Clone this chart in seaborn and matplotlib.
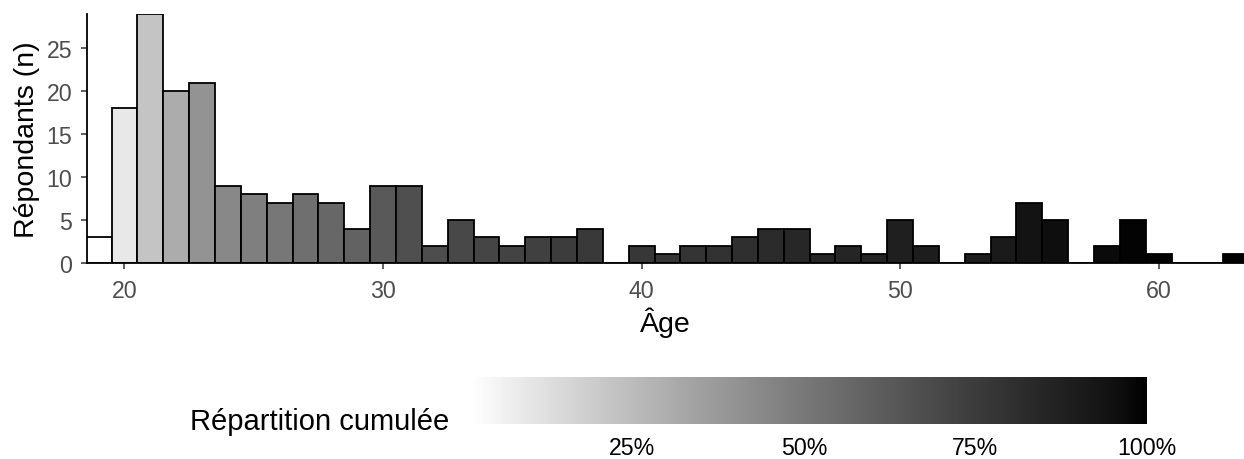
import matplotlib
matplotlib.use("Agg")
import matplotlib.pyplot as plt
import seaborn as sns
import numpy as np
import pandas as pd
from matplotlib.colors import ListedColormap, Normalize
from matplotlib.cm import ScalarMappable

ages = list(range(19, 64))
counts = [3, 18, 29, 20, 21, 9, 8, 7, 8, 7, 4, 9, 9, 2, 5, 3, 2, 3, 3, 4,
          0, 2, 1, 2, 2, 3, 4, 4, 1, 2, 1, 5, 2, 0, 1, 3, 7, 5, 0, 2, 5, 1,
          0, 0, 1]
cb_ticks = [0.25, 0.50, 0.75, 1.00]
cb_labels = ["25%", "50%", "75%", "100%"]


def lab_grey_cmap(n=256):
    # white -> black, interpolated in L* like ggplot's scale_fill_gradient
    L = np.linspace(100, 0, n)
    Y = np.where(L > 8, ((L + 16) / 116) ** 3, L / 903.3)
    s = np.where(Y > 0.0031308, 1.055 * Y ** (1 / 2.4) - 0.055, 12.92 * Y)
    s = np.clip(s, 0, 1)
    return ListedColormap(np.column_stack([s, s, s]))


df = pd.DataFrame({"age": ages, "n": counts})
df["cum"] = df["n"].cumsum() / df["n"].sum()

sns.set_theme(style="white")
plt.rcParams["font.family"] = ["Liberation Sans", "DejaVu Sans"]

fig = plt.figure(figsize=(12.44, 4.6), dpi=100)
ax = fig.add_axes([87 / 1244, 1 - 264 / 460, 1 - 87 / 1244, 249 / 460])

sns.histplot(data=df, x="age", weights="n", discrete=True, ax=ax,
             edgecolor="black", linewidth=1.3, alpha=1)

cmap = lab_grey_cmap()
norm = Normalize(vmin=df["cum"].min(), vmax=df["cum"].max())
cum_by_age = dict(zip(df["age"], df["cum"]))
for p in ax.patches:
    a = int(round(p.get_x() + p.get_width() / 2))
    if a in cum_by_age:
        p.set_facecolor(cmap(norm(cum_by_age[a])))

ax.set_xlim(18.55, 63.3)
ax.set_ylim(0, 29)
ax.set_xticks([20, 30, 40, 50, 60])
ax.set_yticks([0, 5, 10, 15, 20, 25])
ax.set_xlabel("Âge", fontsize=20.5, color="black", labelpad=3)
ax.set_ylabel("Répondants (n)", fontsize=20.5, color="black", labelpad=5)
ax.tick_params(axis="both", labelsize=16.7, labelcolor="#4d4d4d", colors="#333333",
               length=4.5, width=1.1, bottom=True, left=True)
ax.tick_params(axis="both", labelcolor="#4d4d4d")
ax.tick_params(axis="x", pad=7)
ax.tick_params(axis="y", pad=6)
for side in ["top", "right"]:
    ax.spines[side].set_visible(False)
for side in ["left", "bottom"]:
    ax.spines[side].set_color("black")
    ax.spines[side].set_linewidth(1.3)
ax.grid(False)

cax = fig.add_axes([470 / 1244, 1 - 425 / 460, (1147 - 470) / 1244, 47 / 460])
cb = fig.colorbar(ScalarMappable(norm=norm, cmap=cmap), cax=cax,
                  orientation="horizontal")
cb.outline.set_visible(False)
cb.set_ticks(cb_ticks)
cb.set_ticklabels(cb_labels)
cax.tick_params(axis="x", direction="in", color="white", length=9, width=0.8,
                top=True, bottom=True, labelsize=16.7, labelcolor="black", pad=9)
fig.text(190 / 1244, 1 - 422 / 460, "Répartition cumulée", fontsize=21,
         ha="left", va="center", color="black")

fig.savefig("out.png", dpi=100)
